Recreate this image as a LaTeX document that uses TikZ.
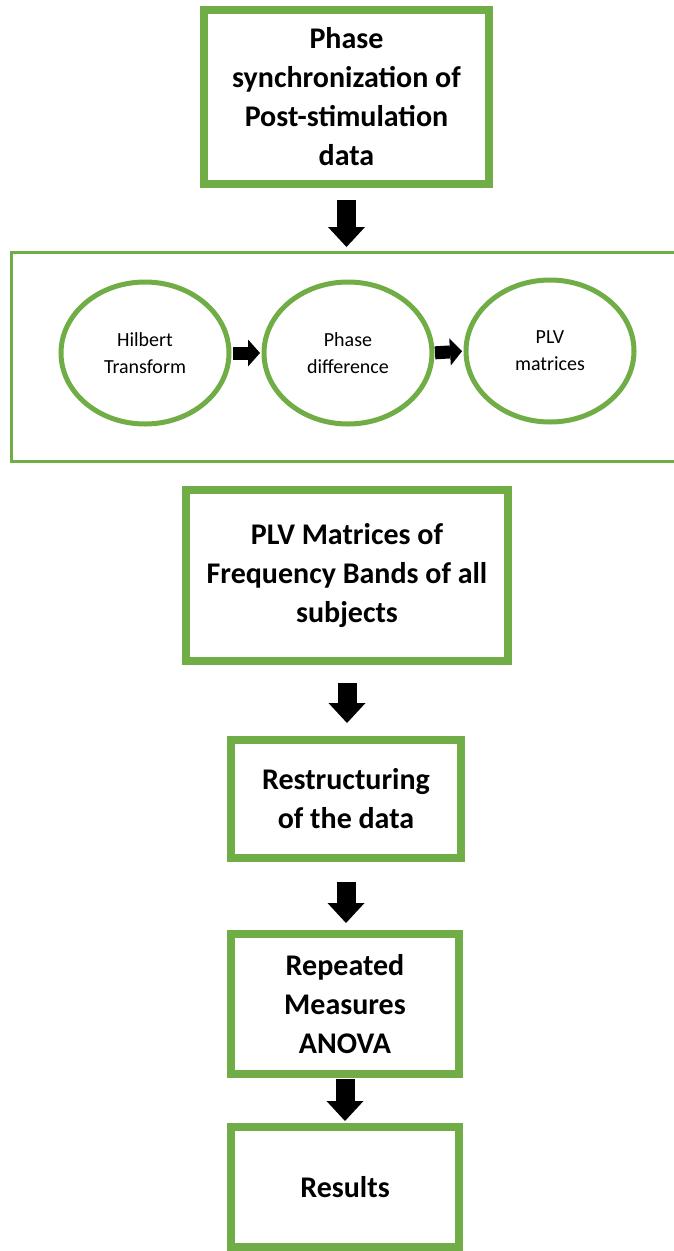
\documentclass[tikz,border=0pt]{standalone}
\usepackage{fontspec}
\setmainfont{Carlito}
\usetikzlibrary{positioning, shapes.geometric, arrows.meta}
\definecolor{officegreen}{HTML}{70AD47}

\begin{document}
\begin{tikzpicture}[x=1pt, y=-1pt,
  stagebox/.style={draw=officegreen, line width=8pt, rectangle, outer sep=0pt, inner sep=0pt, align=center, font=\fontsize{30}{39}\selectfont\bfseries},
  stepcircle/.style={draw=officegreen, line width=5pt, ellipse, outer sep=0pt, inner sep=0pt, minimum width=168pt, minimum height=142pt, align=center, font=\fontsize{20}{27}\selectfont},
  bigarrow/.style={line width=19pt, -{Triangle[width=37pt, length=20pt, line width=0pt]}},
  smallarrow/.style={line width=13pt, -{Triangle[width=27pt, length=12pt, line width=0pt]}}
]
\useasboundingbox (0,0) rectangle (674,1251);

\node (sync) at (346.5,97) [stagebox, minimum width=285pt, minimum height=174pt] {Phase\\synchronization of\\Post-stimulation\\data};

\node (plvframe) at (345.5,356.5) [draw=officegreen, line width=3pt, outer sep=0pt, minimum width=669pt, minimum height=209pt] {};

\node (hilbert) at (145,353) [stepcircle] {Hilbert\\Transform};
\node (phasediff) at (348,353) [stepcircle] {Phase\\difference};
\node (plv) at (550,351) [stepcircle] {PLV\\matrices};

\node (bands) at (347,575.5) [stagebox, minimum width=322pt, minimum height=171pt] {PLV Matrices of\\Frequency Bands of all\\subjects};
\node (restruct) at (346,799) [stagebox, minimum width=230pt, minimum height=118pt] {Restructuring\\of the data};
\node (anova) at (345,1004) [stagebox, minimum width=228pt, minimum height=140pt] {Repeated\\Measures\\ANOVA};
\node (results) at (345,1187) [stagebox, minimum width=228pt, minimum height=120pt] {Results};

\draw [bigarrow, shorten <=16pt, shorten >=5pt] (sync.south) -- (sync.south |- plvframe.north);
\draw [smallarrow, shorten <=4pt, shorten >=4pt] (hilbert.east) -- (phasediff.west);
\draw [smallarrow, shorten <=3pt, shorten >=4pt] (phasediff.east) -- (plv.west);
\draw [bigarrow, shorten <=22pt, shorten >=17pt] (bands.south) -- (bands.south |- restruct.north);
\draw [bigarrow, shorten <=24pt, shorten >=11pt] (restruct.south) -- (restruct.south |- anova.north);
\draw [bigarrow, shorten <=5pt, shorten >=6pt] (anova.south) -- (anova.south |- results.north);

\end{tikzpicture}
\end{document}
